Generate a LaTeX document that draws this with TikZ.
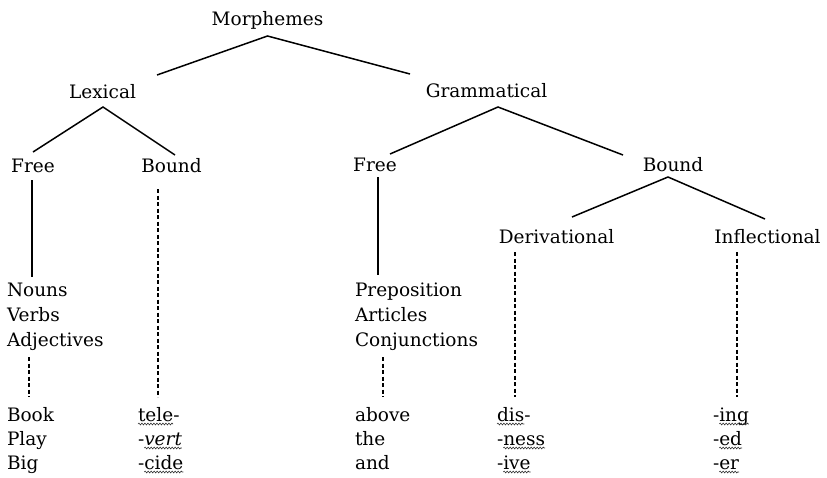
\documentclass[tikz,border=0pt]{standalone}
\usepackage{fontspec}
\setmainfont{DejaVu Serif}
\usetikzlibrary{calc,decorations.pathmorphing}
\begin{document}
\begin{tikzpicture}[x=1pt,y=-1pt,
 tx/.style={inner sep=0pt, outer sep=0pt, font=\fontsize{18.5}{21}\selectfont},
 ctr/.style={tx, anchor=base},
 lft/.style={tx, anchor=base west},
 branch/.style={line width=1.5pt},
 solidlink/.style={line width=1.5pt},
 dashlink/.style={line width=1.5pt, dash pattern=on 4pt off 2.5pt},
 wavy/.style={line width=0.6pt, black!80, decorate, decoration={snake, amplitude=0.9pt, segment length=3pt}}]
\useasboundingbox (0,0) rectangle (827,477);
% tree labels
\node[ctr] (M) at (267.5,25) {Morphemes};
\node[ctr] (Lex) at (102.5,98) {Lexical};
\node[ctr] (Gram) at (486.5,97) {Grammatical};
\node[ctr] (FreeL) at (33,172) {Free};
\node[ctr] (BoundL) at (171.5,172) {Bound};
\node[ctr] (FreeM) at (375,171) {Free};
\node[ctr] (BoundR) at (673,171) {Bound};
\node[ctr] (Deriv) at (556.5,243) {Derivational};
\node[ctr] (Infl) at (767.5,243) {Inflectional};
% lists
\node[lft] (N1) at (7,296) {Nouns};
\node[lft] (N2) at (7,321) {Verbs};
\node[lft] (N3) at (7,346) {Adjectives};
\node[lft] (P1) at (355,296) {Preposition};
\node[lft] (P2) at (355,321) {Articles};
\node[lft] (P3) at (355,346) {Conjunctions};
% examples
\node[lft] (E1) at (7,421) {Book};
\node[lft] (E2) at (7,445) {Play};
\node[lft] (E3) at (7,469) {Big};
\node[lft] (G1) at (355,421) {above};
\node[lft] (G2) at (355,445) {the};
\node[lft] (G3) at (355,469) {and};
\node[lft] (T1) at (138,421) {tele};
\node[lft] (T1h) at (T1.base east) {-};
\node[lft] (T2h) at (138,445) {-};
\node[lft] (T2) at (T2h.base east) {\itshape vert};
\node[lft] (T3h) at (138,469) {-};
\node[lft] (T3) at (T3h.base east) {cide};
\node[lft] (D1) at (497,421) {dis};
\node[lft] (D1h) at (D1.base east) {-};
\node[lft] (D2h) at (497,445) {-};
\node[lft] (D2) at (D2h.base east) {ness};
\node[lft] (D3h) at (497,469) {-};
\node[lft] (D3) at (D3h.base east) {ive};
\node[lft] (I1h) at (713,421) {-};
\node[lft] (I1) at (I1h.base east) {ing};
\node[lft] (I2h) at (713,445) {-};
\node[lft] (I2) at (I2h.base east) {ed};
\node[lft] (I3h) at (713,469) {-};
\node[lft] (I3) at (I3h.base east) {er};
% squiggles
\foreach \w in {T1,T2,T3,D1,D2,D3,I1,I2,I3}
  \draw[wavy] ([yshift=-3pt]\w.base west) -- ([yshift=-3pt]\w.base east);
% branches
\draw[branch] ($(Lex.base)+(54.5,-23)$) -- ($(M.base)+(0,11)$) -- ($(Gram.base)+(-76.5,-23)$);
\draw[branch] ($(FreeL.base)+(0,-20)$) -- ($(Lex.base)+(0.5,9)$) -- ($(BoundL.base)+(3.5,-17)$);
\draw[branch] ($(FreeM.base)+(15,-17)$) -- ($(Gram.base)+(11.5,10)$) -- ($(BoundR.base)+(-50,-16)$);
\draw[branch] ($(Deriv.base)+(15.5,-26)$) -- ($(BoundR.base)+(-5,6)$) -- ($(Infl.base)+(-2.5,-24)$);
% verticals
\draw[solidlink] ($(FreeL.base)+(-1,8)$) -- ($(N1.base west)+(25,-19)$);
\draw[dashlink] ($(N3.base west)+(22,11)$) -- ($(E1.base west)+(22,-24)$);
\draw[dashlink] ($(BoundL.base)+(-13.5,17)$) -- ($(T1.base west)+(20,-24)$);
\draw[solidlink] ($(FreeM.base)+(3,6)$) -- ($(P1.base west)+(23,-21)$);
\draw[dashlink] ($(P3.base west)+(28,11)$) -- ($(G1.base west)+(28,-24)$);
\draw[dashlink] ($(Deriv.base)+(-41.5,9)$) -- ($(D1.base west)+(18,-24)$);
\draw[dashlink] ($(Infl.base)+(-30.5,9)$) -- ($(I1h.base west)+(24,-24)$);
\end{tikzpicture}
\end{document}
